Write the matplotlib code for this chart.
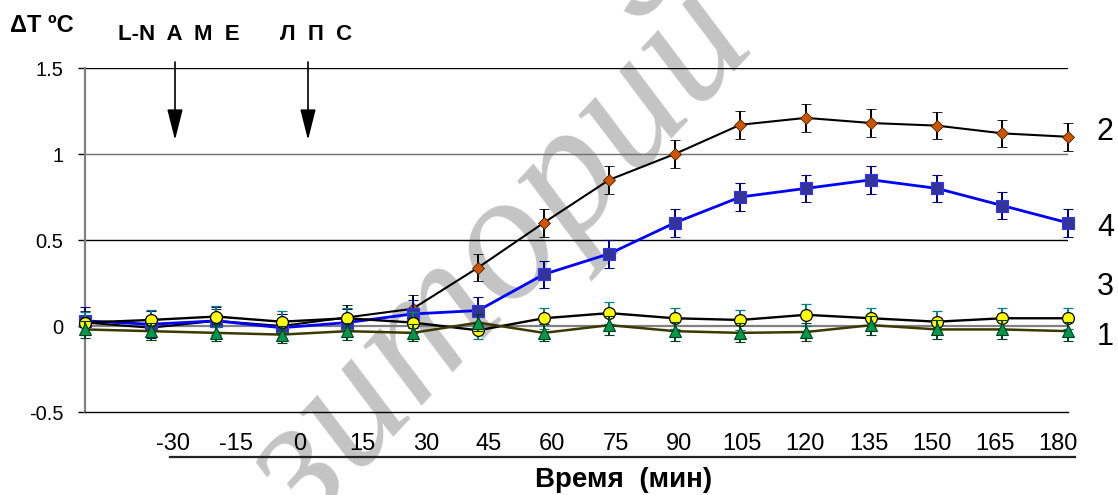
import numpy as np
import matplotlib.pyplot as plt
from matplotlib.lines import Line2D

plt.rcParams['font.family'] = ['Liberation Sans', 'DejaVu Sans']

# 16 measurement points, time labels are placed as a separate row (as in the original)
time_labels = ['-30', '-15', '0', '15', '30', '45', '60', '75', '90',
               '105', '120', '135', '150', '165', '180']
idx = np.arange(16)

# series 1 - green triangles
s1 = [-0.02, -0.03, -0.04, -0.05, -0.03, -0.04, 0.02, -0.04,
      0.005, -0.03, -0.04, -0.035, 0.005, -0.02, -0.02, -0.03]
e1 = [0.05, 0.05, 0.05, 0.05, 0.05, 0.05, 0.05, 0.05,
      0.055, 0.055, 0.055, 0.055, 0.055, 0.055, 0.055, 0.055]
# series 2 - brown diamonds
s2 = [0.02, -0.01, 0.03, 0.00, 0.05, 0.10, 0.34, 0.60,
      0.85, 1.00, 1.17, 1.21, 1.18, 1.165, 1.12, 1.10]
e2 = [0.07, 0.07, 0.07, 0.07, 0.07, 0.08, 0.08, 0.08,
      0.08, 0.08, 0.08, 0.08, 0.08, 0.08, 0.08, 0.08]
# series 3 - yellow circles
s3 = [0.02, 0.035, 0.055, 0.025, 0.045, 0.02, -0.025, 0.045,
      0.075, 0.045, 0.035, 0.065, 0.045, 0.025, 0.045, 0.045]
e3 = [0.06, 0.06, 0.06, 0.06, 0.06, 0.06, 0.05, 0.06,
      0.065, 0.06, 0.06, 0.065, 0.06, 0.06, 0.06, 0.06]
# series 4 - blue squares
s4 = [0.03, 0.01, 0.03, -0.01, 0.02, 0.07, 0.09, 0.30,
      0.42, 0.60, 0.75, 0.80, 0.85, 0.80, 0.70, 0.60]
e4 = [0.08, 0.08, 0.08, 0.08, 0.08, 0.08, 0.08, 0.08,
      0.08, 0.08, 0.08, 0.08, 0.08, 0.08, 0.08, 0.08]

W, H = 1118, 495


def fx(px):
    return px / W


def fy(py):
    return 1 - py / H


fig = plt.figure(figsize=(W / 100, H / 100), dpi=100)
fig.patch.set_facecolor('white')
ax = fig.add_axes([fx(85), fy(412), fx(1068) - fx(85), fy(68) - fy(412)])
ax.patch.set_alpha(0)

# watermark (cut off by the figure edge, as in the source)
ax.text(fx(500), fy(258), 'зиторий', transform=fig.transFigure,
        rotation=47, rotation_mode='anchor', ha='center', va='center',
        fontsize=132, fontstyle='italic',
        family='Liberation Serif', color='#c4c4c4', zorder=0.5)

# horizontal grid
for v, c, lw in [(1.5, 'black', 1.0), (1.0, '#707070', 1.0),
                 (0.5, 'black', 1.0), (0.0, '#808080', 1.6)]:
    ax.axhline(v, color=c, lw=lw, zorder=1)

common = dict(elinewidth=1.4, capsize=3.3, capthick=1.5, clip_on=False)
ax.errorbar(idx, s2, yerr=e2, color='black', lw=1.5, marker='D', ms=6.5,
            mfc='#cc5500', mec='#4a2000', mew=0.6, ecolor='black',
            zorder=3, **common)
ax.errorbar(idx, s4, yerr=e4, color='#0000ff', lw=2.0, marker='s', ms=8.5,
            mfc='#333399', mec='#3333ff', mew=0.8, ecolor='#000080',
            zorder=4, **common)
ax.errorbar(idx, s3, yerr=e3, color='black', lw=1.7, marker='o', ms=8.5,
            mfc='#ffff00', mec='black', mew=0.9, ecolor='#008080',
            zorder=5, **common)
ax.errorbar(idx, s1, yerr=e1, color='#3a3a00', lw=1.8, marker='^', ms=8.5,
            mfc='#00994c', mec='#004020', mew=0.8, ecolor='#004020',
            zorder=6, **common)

ax.set_xlim(0, 15)
ax.set_ylim(-0.5, 1.5)
ax.set_yticks([-0.5, 0, 0.5, 1, 1.5], ['-0.5', '0', '0.5', '1', '1.5'])
ax.tick_params(axis='y', length=5, width=1, color='black', pad=10.5,
               labelsize=14.5, direction='out')
ax.set_xticks(np.linspace(1.34, 14.85, 15), time_labels)
ax.tick_params(axis='x', length=0, pad=15, labelsize=17)

for s in ['top', 'right']:
    ax.spines[s].set_visible(False)
ax.spines['left'].set_color('#808080')
ax.spines['left'].set_linewidth(1.6)
ax.spines['bottom'].set_color('black')
ax.spines['bottom'].set_linewidth(1.0)

# series numbers at the right
series_tags = ['2', '4', '3', '1']
tag_y = [1.128, 0.57, 0.227, -0.064]
for t, y in zip(series_tags, tag_y):
    ax.text(15.57, y, t, ha='center', va='center', fontsize=22, clip_on=False)

# line under the time labels and axis title
fig.add_artist(Line2D([fx(170), fx(1075)], [fy(457), fy(457)],
                      transform=fig.transFigure, color='#222222', lw=1.6))
fig.text(fx(624), fy(480), 'Время  (мин)', ha='center', va='center',
         fontsize=20, fontweight='bold')

fig.text(fx(10), fy(26), 'ΔT ºC', ha='left', va='center',
         fontsize=17, fontweight='bold')
fig.text(fx(118), fy(35), 'L-N  A  M  E', ha='left', va='center',
         fontsize=16, fontweight='bold')
fig.text(fx(280), fy(35), 'Л  П  С', ha='left', va='center',
         fontsize=16, fontweight='bold')

for xa in [175, 308]:
    ax.annotate('', xy=(fx(xa), fy(140)), xytext=(fx(xa), fy(62)),
                xycoords='figure fraction',
                arrowprops=dict(arrowstyle='-|>,head_length=0.95,head_width=0.24',
                                color='black', lw=1.2, mutation_scale=20,
                                shrinkA=0, shrinkB=0))

fig.savefig('out.png', dpi=100)
